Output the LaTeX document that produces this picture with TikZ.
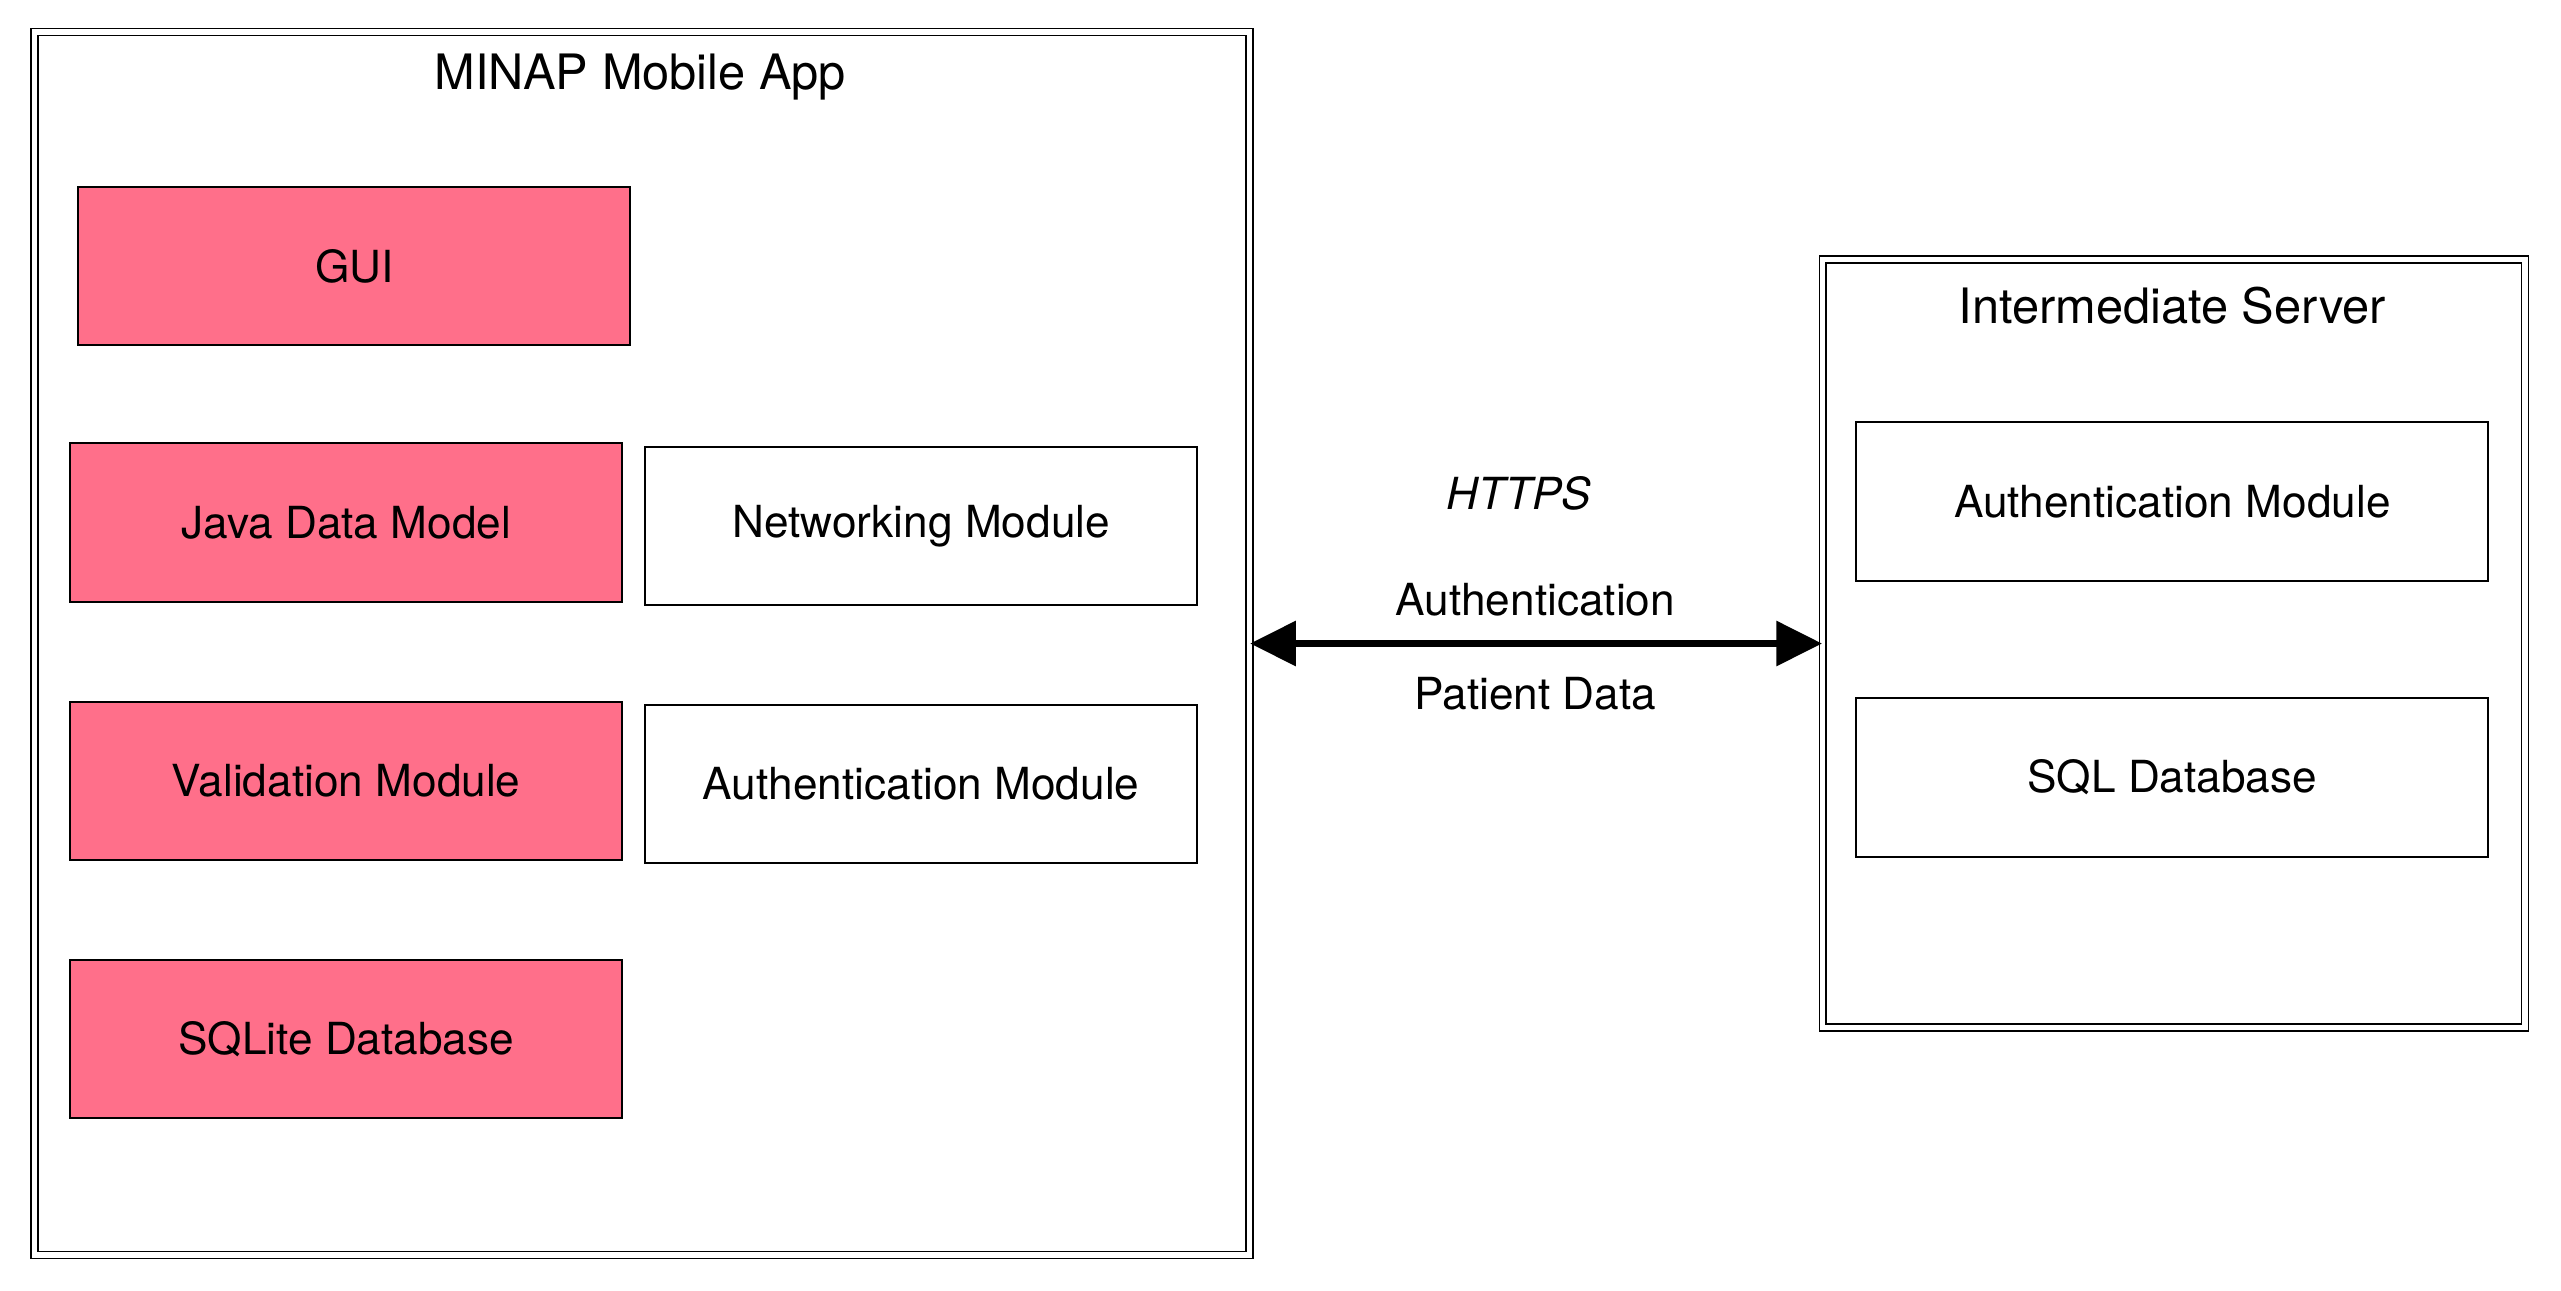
\documentclass[tikz,border=0pt]{standalone}
\usepackage{fontspec}
\setmainfont{TeX Gyre Heros}
\usetikzlibrary{arrows.meta}
\definecolor{guipink}{HTML}{FF6F8A}
\tikzset{module/.style={draw=black, line width=0.7pt, minimum width=6.76cm, minimum height=1.94cm, inner sep=0pt, font=\fontsize{15.4}{18}\selectfont}}
\tikzset{appmodule/.style={module, fill=guipink}}
\tikzset{container/.style={draw=black, double, double distance=1.8pt, line width=0.6pt, inner sep=0pt}}
\tikzset{boxtitle/.style={font=\fontsize{17}{20}\selectfont}}
\tikzset{linklabel/.style={font=\fontsize{15.4}{18}\selectfont}}
\tikzset{link/.style={line width=2.2pt, {Triangle[length=0.56cm, width=0.54cm]}-{Triangle[length=0.56cm, width=0.54cm]}}}

\begin{document}
\begin{tikzpicture}[x=0.02cm, y=-0.02cm]
    \useasboundingbox (0,0) rectangle (1568,790);

    % mobile app
    \node[container, minimum width=14.88cm, minimum height=14.98cm] (app) at (393,394) {};
    \node[boxtitle] (apptitle) at (392,47) {MINAP Mobile App};
    \node[appmodule] (gui) at (217,163) {GUI};
    \node[appmodule] (model) at (212,320) {Java Data Model};
    \node[appmodule] (valid) at (212,478) {Validation Module};
    \node[appmodule] (sqlite) at (212,636) {SQLite Database};
    \node[module] (net) at (564,322) {Networking Module};
    \node[module] (appauth) at (564,480) {Authentication Module};

    % server
    \node[container, minimum width=8.6cm, minimum height=9.4cm] (server) at (1331,394) {};
    \node[boxtitle] (servertitle) at (1330,187) {Intermediate Server};
    \node[module, minimum width=7.74cm] (srvauth) at (1330,307) {Authentication Module};
    \node[module, minimum width=7.74cm] (sqldb) at (1330,476) {SQL Database};

    % connection
    \draw[link] (app.east) -- (server.west);
    \node[linklabel] (https) at (930,302) {\itshape HTTPS};
    \node[linklabel] (authlabel) at (940,367) {Authentication};
    \node[linklabel] (datalabel) at (940,425) {Patient Data};

\end{tikzpicture}
\end{document}
